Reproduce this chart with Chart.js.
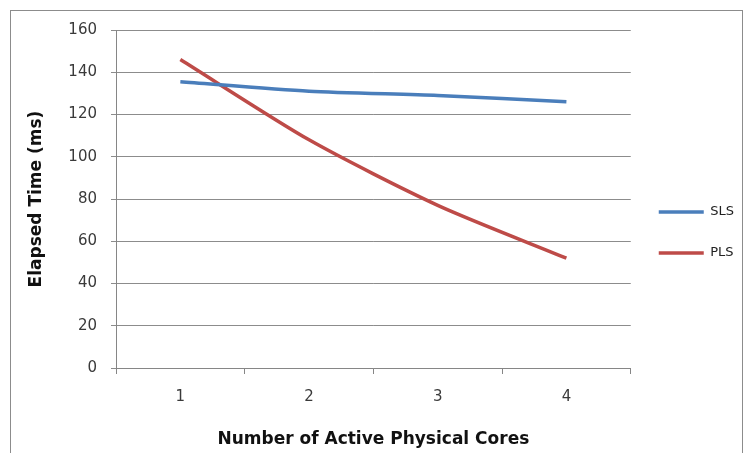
<!DOCTYPE html>
<html>
<head>
<meta charset="utf-8">
<script src="https://cdn.jsdelivr.net/npm/chart.js@4"></script>
<style>
  html, body { margin: 0; padding: 0; background: #fff; }
  #box {
    position: absolute; left: 10px; top: 10px;
    width: 731px; height: 442px;
    border: 1px solid #8c8c8c; background: #fff;
  }
  canvas { display: block; }
</style>
</head>
<body>
<div id="box"><canvas id="grafica" width="731" height="442"></canvas></div>
<script>
const cores = ['1', '2', '3', '4'];
const slsTimes = [135.5, 131, 129, 126];
const plsTimes = [146, 108, 77, 52];
const yTicks = [0, 20, 40, 60, 80, 100, 120, 140, 160];

document.addEventListener("DOMContentLoaded", function () {
    const ctx = document.getElementById('grafica').getContext('2d');
    new Chart(ctx, {
        type: 'line',
        data: {
            labels: cores,
            datasets: [{
                label: 'SLS',
                data: slsTimes,
                borderColor: '#4a7ebb',
                backgroundColor: '#4a7ebb',
                borderWidth: 3.5,
                pointRadius: 0,
                tension: 0.25
            }, {
                label: 'PLS',
                data: plsTimes,
                borderColor: '#be4b48',
                backgroundColor: '#be4b48',
                borderWidth: 3.5,
                pointRadius: 0,
                tension: 0.25
            }]
        },
        options: {
            responsive: false,
            animation: false,
            // bottom padding lifts the legend to where the original has it
            layout: { padding: { left: 0, top: 17, right: -2, bottom: 16 } },
            plugins: {
                tooltip: { enabled: false },
                legend: {
                    position: 'right',
                    labels: {
                        usePointStyle: true,
                        pointStyle: 'line',
                        pointStyleWidth: 45,
                        padding: 28,
                        color: '#222',
                        font: { family: 'DejaVu Sans', size: 13 }
                    }
                }
            },
            scales: {
                x: {
                    offset: true,
                    afterFit: function (s) { s.height = 69; },
                    grid: {
                        offset: true,
                        drawOnChartArea: false,
                        tickLength: 6,
                        color: '#868686'
                    },
                    border: { color: '#868686' },
                    ticks: {
                        padding: 14,
                        color: '#3a3a3a',
                        font: { family: 'DejaVu Sans', size: 15 }
                    },
                    title: {
                        display: true,
                        text: 'Number of Active Physical Cores',
                        color: '#111',
                        padding: { bottom: -13 },
                        font: { family: 'DejaVu Sans', size: 17, weight: 'bold' }
                    }
                },
                y: {
                    min: 0,
                    max: 160,
                    afterFit: function (s) {
                        s.width = 105;
                        s.paddingTop = 19;   // tick padding would otherwise push the plot top down
                    },
                    afterBuildTicks: function (s) { s.ticks = yTicks.map(v => ({ value: v })); },
                    grid: {
                        tickLength: 5,
                        color: '#8c8c8c'
                    },
                    border: { color: '#868686' },
                    ticks: {
                        padding: 14,
                        color: '#3a3a3a',
                        font: { family: 'DejaVu Sans', size: 15 }
                    },
                    title: {
                        display: true,
                        text: 'Elapsed Time (ms)',
                        color: '#111',
                        padding: { top: 15 },
                        font: { family: 'DejaVu Sans', size: 17, weight: 'bold' }
                    }
                }
            }
        }
    });
});
</script>
</body>
</html>
